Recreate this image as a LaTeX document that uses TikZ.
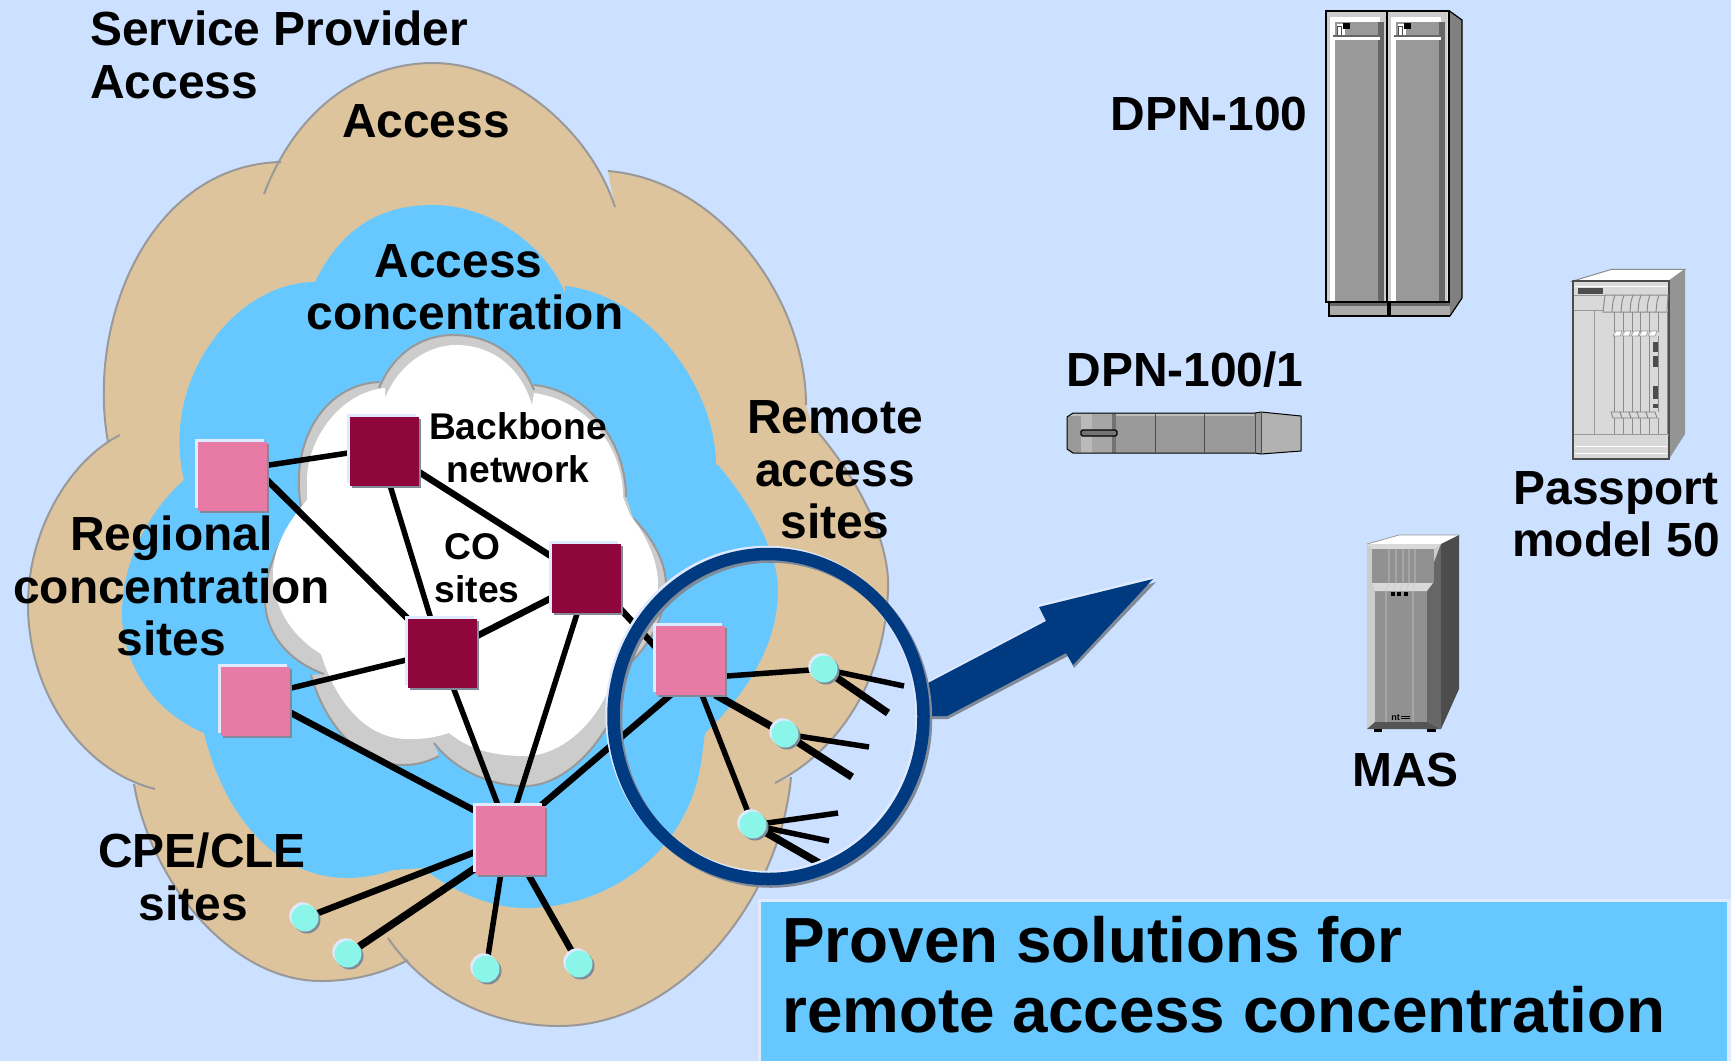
\documentclass[tikz,border=0pt]{standalone}
\usepackage{fontspec}
\setmainfont{Liberation Sans}
\usetikzlibrary{shadows}
\definecolor{bgc}{HTML}{CCE0FF}
\definecolor{tanc}{HTML}{DDC49C}
\definecolor{bluec}{HTML}{66C8FF}
\definecolor{pinkc}{HTML}{E87BA6}
\definecolor{maroonc}{HTML}{8F063C}
\definecolor{tealc}{HTML}{8CF5EA}
\definecolor{navyc}{HTML}{003A80}
\definecolor{shadc}{HTML}{808A99}
\definecolor{hilc}{HTML}{E0EAFF}
\definecolor{edgec}{HTML}{999999}
\pgfdeclarelayer{clouds}
\pgfdeclarelayer{links}
\pgfsetlayers{clouds,links,main}
\newcommand\deflobe[2]{%
  \expandafter\def\csname s#1\endcsname{#2}%
  \expandafter\def\csname c#1\endcsname{-- #2}}
% outer cloud
\deflobe{oa}{(264,194) .. controls (300,100) and (370,63) .. (433,63) .. controls (510,63) and (590,130) .. (615,207)}
\deflobe{ob}{(608,171) .. controls (720,180) and (806,300) .. (806,405)}
\deflobe{oc}{(812,425) .. controls (868,490) and (890,550) .. (888,590) .. controls (885,680) and (840,750) .. (775,783)}
\deflobe{od}{(791,777) .. controls (780,900) and (680,1026) .. (559,1026) .. controls (480,1026) and (420,985) .. (388,938)}
\deflobe{oe}{(408,960) .. controls (380,975) and (350,981) .. (321,981) .. controls (230,981) and (150,880) .. (134,784)}
\deflobe{of}{(155,789) .. controls (80,770) and (28,690) .. (28,605) .. controls (28,530) and (70,460) .. (120,435)}
\deflobe{og}{(108,442) .. controls (86,320) and (150,165) .. (281,162)}
% middle cloud
\deflobe{ma}{(315,282) .. controls (345,220) and (390,205) .. (433,205) .. controls (490,205) and (545,245) .. (565,293)}
\deflobe{mb}{(565,286) .. controls (650,295) and (716,390) .. (716,465)}
\deflobe{mc}{(718,465) .. controls (760,515) and (778,560) .. (778,590) .. controls (778,650) and (740,700) .. (705,733)}
\deflobe{md}{(703,747) .. controls (695,850) and (610,908) .. (525,908) .. controls (490,908) and (450,890) .. (423,868)}
\deflobe{me}{(393,870) .. controls (375,876) and (360,878) .. (347,878) .. controls (280,878) and (225,820) .. (204,733)}
\deflobe{mf}{(204,733) .. controls (150,710) and (122,660) .. (122,614) .. controls (122,560) and (150,510) .. (184,480)}
\deflobe{mg}{(184,480) .. controls (160,380) and (235,282) .. (315,282)}
% backbone cloud, outer
\deflobe{ba}{(379,388) .. controls (395,350) and (425,335) .. (453,335) .. controls (490,335) and (520,355) .. (534,390)}
\deflobe{bb}{(534,385) .. controls (585,390) and (626,440) .. (626,497)}
\deflobe{bc}{(633,518) .. controls (655,540) and (666,565) .. (666,585) .. controls (666,620) and (645,650) .. (628,665) .. controls (620,730) and (570,786) .. (525,786) .. controls (490,786) and (455,770) .. (434,743)}
\deflobe{bd}{(439,756) .. controls (425,763) and (415,765) .. (403,765) .. controls (360,765) and (325,725) .. (311,675)}
\deflobe{be}{(324,674) .. controls (285,660) and (265,630) .. (265,600) .. controls (265,565) and (285,530) .. (301,511)}
\deflobe{bf}{(304,520) .. controls (285,450) and (320,385) .. (379,382)}
% backbone cloud, white
\deflobe{wa}{(385,398) .. controls (400,362) and (430,345) .. (456,345) .. controls (490,345) and (520,365) .. (532,405)}
\deflobe{wb}{(534,393) .. controls (585,400) and (623,445) .. (623,497)}
\deflobe{wc}{(630,515) .. controls (650,540) and (658,565) .. (658,585) .. controls (658,625) and (630,665) .. (610,686) .. controls (595,725) and (560,756) .. (525,756) .. controls (495,756) and (470,750) .. (449,733)}
\deflobe{wd}{(449,733) .. controls (430,739) and (420,739) .. (408,739) .. controls (365,739) and (335,700) .. (321,654)}
\deflobe{we}{(321,654) .. controls (290,635) and (273,605) .. (273,575) .. controls (273,550) and (285,525) .. (307,500)}
\deflobe{wf}{(307,480) .. controls (307,440) and (340,392) .. (385,388)}
\tikzset{
  sqbase/.style={rectangle,inner sep=0pt,minimum width=69pt,minimum height=69pt,
    general shadow={fill=hilc,shadow xshift=-2.2pt,shadow yshift=2.4pt},
    general shadow={fill=shadc,shadow xshift=2.4pt,shadow yshift=-2.4pt}},
  pinksq/.style={sqbase,fill=pinkc},
  marsq/.style={sqbase,fill=maroonc},
  dot/.style={circle,inner sep=0pt,minimum size=27pt,fill=tealc,
    general shadow={fill=hilc,shadow xshift=-2.2pt,shadow yshift=2.2pt},
    general shadow={fill=shadc,shadow xshift=2pt,shadow yshift=-2pt}},
  lab/.style={inner sep=0pt,align=center,font=\fontsize{47.9}{52.5}\selectfont\bfseries},
  labs/.style={inner sep=0pt,align=center,font=\fontsize{37.2}{43}\selectfont\bfseries},
  thin link/.style={line width=5.5pt,black},
  thick link/.style={line width=7.5pt,black},
  mid link/.style={line width=6.5pt,black},
  outl/.style={draw=black,line width=1.2pt},
}
\newcommand\doorpart[1]{%
 \begin{scope}[xshift=#1pt]
  \fill[gray!40!white] (1327,11) rectangle (1386,301);
  \fill[white] (1330,17) rectangle (1335,301);
  \fill[white] (1330,17) rectangle (1380,22);
  \fill[black!40] (1335,22) rectangle (1379,301);
  \fill[black!60] (1378,22) rectangle (1384,301);
  \fill[black!60] (1333,35) rectangle (1380,37);
  \fill[white] (1333,37) rectangle (1380,39.5);
  \fill[white] (1337,24) rectangle (1345,35);
  \fill[black] (1343,23) rectangle (1350,29);
  \draw[black!70,line width=.7pt] (1337,35) -- (1337,26) -- (1341,26) -- (1341,35);
 \end{scope}}
\begin{document}
\begin{tikzpicture}[x=1pt,y=-1pt]
\useasboundingbox (0,0) rectangle (1731,1061);
\begin{pgfonlayer}{clouds}
\fill[bgc] (0,0) rectangle (1731,1061);
\fill[tanc] \soa \cob \coc \cod \coe \cof \cog -- cycle;
\foreach \l in {oa,ob,oc,od,oe,of,og}{\draw[edgec,line width=2pt] \csname s\l\endcsname;}
\fill[bluec] \sma \cmb \cmc \cmd \cme \cmf \cmg -- cycle;
\fill[black!20] \sba \cbb \cbc \cbd \cbe \cbf -- cycle;
\foreach \l in {ba,bb,bc,bd,be,bf}{\draw[edgec,line width=2pt] \csname s\l\endcsname;}
\fill[white] \swa \cwb \cwc \cwd \cwe \cwf -- cycle;
\end{pgfonlayer}

% sites
\node[pinksq] (P1) at (232,476) {};
\node[marsq]  (M1) at (384,451) {};
\node[pinksq] (P2) at (255,701) {};
\node[marsq]  (M2) at (442,653) {};
\node[marsq]  (M3) at (586,578) {};
\node[pinksq] (P3) at (510,840) {};
\node[pinksq] (P4) at (690,660) {};
\node[dot] (D1) at (305,918) {};
\node[dot] (D2) at (348,954) {};
\node[dot] (D3) at (486,969) {};
\node[dot] (D4) at (579,964) {};
\node[dot] (DA) at (824,669) {};
\node[dot] (DB) at (785,734) {};
\node[dot] (DC) at (753,825) {};
\coordinate (A1) at (904,686);
\coordinate (A2) at (888,713);
\coordinate (B1) at (869,747);
\coordinate (B2) at (852,777);
\coordinate (C1) at (838,813);
\coordinate (C2) at (829,841);
\coordinate (C3) at (819,863);

\begin{pgfonlayer}{links}
\draw[thin link] (P1.17) -- (M1.183);
\draw[mid link] (P1.-6) -- (M2.135);
\draw[thin link] (M1.-80) -- (M2.108);
\draw[mid link] (M1.-31) -- (M3.148);
\draw[mid link] (M2.26) -- (M3.210);
\draw[thin link] (P2.20) -- (M2.191);
\draw[mid link] (P2.-18) -- (P3.140);
\draw[thin link] (M2.-72) -- (P3.109);
\draw[thin link] (M3.-104) -- (P3.80);
\draw[mid link] (M3.-42) -- (P4.159);
\draw[mid link] (P3.48) -- (P4.241);
\draw[mid link] (P3.199) -- (D1);
\draw[thick link] (P3.219) -- (D2);
\draw[thin link] (P3.255) -- (D3);
\draw[mid link] (P3.-62) -- (D4);
\draw[thin link] (P4.-25) -- (DA);
\draw[thick link] (P4.-54) -- (DB);
\draw[thin link] (P4.-71) -- (DC);
\draw[thin link] (DA) -- (A1);
\draw[thick link] (DA) -- (A2);
\draw[thin link] (DB) -- (B1);
\draw[thick link] (DB) -- (B2);
\draw[thin link] (DC) -- (C1);
\draw[thin link] (DC) -- (C2);
\draw[thick link] (DC) -- (C3);
\end{pgfonlayer}

% arrow
\fill[hilc] (928,681) -- (1046,619) -- (1037,605) -- (1151,577) -- (1153,579) -- (1100,640) -- (947,716) -- cycle;
\fill[shadc] (928,719) -- (948,719) -- (1068,656) -- (1074,668) -- (1156,582) -- (1100,600) -- (928,690) -- cycle;
\fill[navyc] (928,683) -- (1046,621) -- (1039,607) -- (1153,579) -- (1073,665) -- (1066,653) -- (947,716) -- (928,716) -- cycle;

% magnifier ring
\draw[hilc,line width=12.5pt] (766.5,714.5) ellipse [x radius=155,y radius=162.5];
\draw[shadc,line width=12.5pt] (771,719) ellipse [x radius=155,y radius=162.5];
\draw[navyc,line width=12.5pt] (768.5,716.5) ellipse [x radius=155,y radius=162.5];

% labels
\node[lab,anchor=west,align=left] (t1) at (90,55) {Service Provider\\Access};
\node[lab] (t2) at (426,121) {Access};
\node[lab] (t3) at (465,287) {Access\kern13pt\\concentration};
\node[labs] (t4) at (518,448) {Backbone\\network};
\node[labs] (t5) at (477,568) {CO\kern9pt\\sites};
\node[lab] (t6) at (171.5,586) {Regional\\concentration\\sites};
\node[lab] (t7) at (835,470) {Remote\\access\\sites};
\node[lab] (t8) at (202,877) {CPE/CLE\\sites\kern17pt};
\node[lab] (t9) at (1209,114) {DPN-100};
\node[lab] (t10) at (1185,370) {DPN-100/1};
\node[lab] (t11) at (1616,514) {Passport\\model 50};
\node[lab] (t12) at (1405.5,770) {MAS};

% text box
\fill[hilc] (758,899) rectangle (1731,1061);
\fill[bluec] (761,902) rectangle (1727,1061);
\node[inner sep=0pt,anchor=west,align=left,font=\fontsize{63.8}{70}\selectfont\bfseries] (t13) at (782,975) {Proven solutions for\\remote access concentration};

% DPN-100
\fill[black!50] (1449.5,11) -- (1462,20) -- (1462,298) -- (1450,316) -- cycle;
\draw[outl] (1449.5,11) -- (1462,20) -- (1462,298) -- (1450,316);
\fill[black!33] (1329,302) rectangle (1450,316);
\fill[black!60] (1329,302) rectangle (1450,306);
\draw[outl] (1329,302) -- (1329,316) -- (1388,316) -- (1388,302) (1390,302) -- (1390,316) -- (1450,316);
\doorpart{0}
\doorpart{61}
\draw[black,line width=1.6pt] (1326,11) rectangle (1449,302);
\draw[black,line width=1.6pt] (1387,11) -- (1387,302);

% DPN-100/1
\fill[black!40] (1067,417) -- (1073,413) -- (1255,413) -- (1255,453) -- (1073,453) -- (1067,449) -- cycle;
\fill[black!25] (1070,414) rectangle (1254,416);
\fill[black!27] (1081,414) rectangle (1092,453);
\fill[black!35] (1092,414) rectangle (1112,453);
\fill[black!55] (1112,414) rectangle (1116,453);
\fill[black!30] (1261,412) -- (1301,416) -- (1301,451) -- (1261,454) -- cycle;
\fill[black!40] (1255,413) -- (1261,412) -- (1261,454) -- (1255,453) -- cycle;
\draw[black,line width=1pt] (1067,417) -- (1073,413) -- (1255,413) -- (1261,412) -- (1301,416) -- (1301,451) -- (1261,454) -- (1255,453) -- (1073,453) -- (1067,449) -- cycle;
\draw[black!70,line width=1pt] (1155.5,413) -- (1155.5,453) (1204,413) -- (1204,453) (1255,413) -- (1255,453) (1261,412) -- (1261,454);
\fill[black!55,draw=black,line width=1.2pt,rounded corners=1.5pt] (1081,430) rectangle (1117,436);

% Passport
\fill[white,draw=black!45,line width=1pt] (1573,281) -- (1611.7,269.3) -- (1685,269.3) -- (1669,281) -- cycle;
\fill[black!42] (1669,281) -- (1685,269.3) -- (1685,434) -- (1669,459) -- cycle;
\fill[black!15,draw=black!70,line width=1.2pt] (1573,281) rectangle (1669,459);
\fill[black!70] (1578,288) rectangle (1603,294);
\draw[white,line width=1pt] (1575,286) -- (1667,286) (1575,446) -- (1667,446) (1575,453) -- (1667,453);
\draw[black!40,line width=1pt] (1574,295) -- (1605,295) (1574,310) -- (1603,310) (1594,310) -- (1594,434) (1574,434) -- (1669,434);
\draw[black!45,line width=1pt,fill=black!15] (1605,295) -- (1668,295) -- (1667,312) -- (1603,312) -- cycle;
\foreach \q in {1614,1623,1632,1640,1649,1658}{%
  \draw[black!45,line width=1pt] (\q+1,295) .. controls (\q-1,300) .. (\q-2,312);
  \draw[black!45,line width=1pt] (\q,312) -- (\q,332) (\q,336) -- (\q,412) (\q,418) -- (\q,434);}
\draw[black!45,line width=1pt] (1667,312) -- (1667,434);
\foreach \q in {1614,1623,1632,1640,1649}{%
  \fill[white,draw=black!40,line width=.6pt] (\q-1,336) -- (\q+2,331) -- (\q+8,331) -- (\q+6,336) -- cycle;
  \fill[black!15,draw=black!50,line width=.8pt] (\q-1,418) -- (\q-3,412) -- (\q+6,412) -- (\q+8,418) -- cycle;}
\fill[black!70] (1653,342) rectangle (1658,352);
\fill[black!70] (1653,356) rectangle (1658,367);
\fill[black!70] (1653,386) rectangle (1658,399);
\fill[black!70] (1653,404) rectangle (1658,408);

% MAS
\fill[white] (1367,544) -- (1399,535) -- (1459,535) -- (1441,544) -- cycle;
\draw[black!40,line width=.8pt] (1367,544) -- (1399,535) -- (1459,535);
\fill[black!70] (1441,544) -- (1459,535) -- (1459,689) -- (1441,729) -- cycle;
\fill[black!20] (1367,544) rectangle (1441,729);
\fill[black!60] (1426,583) -- (1441,544) -- (1441,729) -- (1426,722) -- cycle;
\fill[black!43] (1375,583) rectangle (1427,722);
\fill[black!15] (1367,544) -- (1441,544) -- (1434,549) -- (1372,549) -- cycle;
\fill[black!43] (1372,549) rectangle (1434,583);
\fill[black!15] (1372,583) -- (1433,583) -- (1427,591) -- (1375,591) -- cycle;
\fill[black!67] (1367,729) -- (1375,722) -- (1427,722) -- (1441,729) -- cycle;
\fill[black] (1374,729) rectangle (1382,732);
\fill[black] (1427,729) rectangle (1436,732);
\draw[black!20,line width=.8pt] (1386,591) -- (1386,722) (1413,591) -- (1413,722)
  (1389,549) -- (1389,583) (1396,549) -- (1396,583) (1403,549) -- (1403,583) (1409,549) -- (1409,583) (1415,549) -- (1415,583)
  (1386,591) -- (1389,583) (1393,591) -- (1396,583) (1400,591) -- (1403,583) (1406,591) -- (1409,583) (1413,591) -- (1415,583);
\fill[black] (1391,592) rectangle (1395,596);
\fill[black] (1397,592) rectangle (1401,596);
\fill[black] (1404,592) rectangle (1408,596);
\node[inner sep=0pt,anchor=east,font=\fontsize{9}{9}\selectfont\bfseries] (nt) at (1400,718) {nt};
\draw[black,line width=.6pt] (1401,716) -- (1410,716) (1401,718) -- (1410,718);
\end{tikzpicture}
\end{document}
